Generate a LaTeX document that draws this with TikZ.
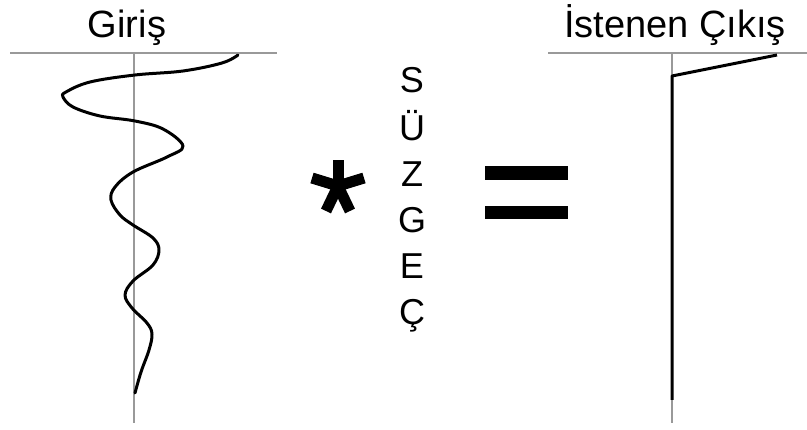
\documentclass[tikz,border=0pt]{standalone}
\usepackage{fontspec}
\setmainfont{Liberation Sans}
\begin{document}
\begin{tikzpicture}[x=1pt,y=-1pt,
  axis/.style={draw=black!40,line width=1.4pt},
  signal/.style={draw=black,line width=3pt,line cap=round,line join=round},
  title/.style={font=\fontsize{38}{40}\selectfont,anchor=base,inner sep=0pt},
  letter/.style={font=\fontsize{36}{38}\selectfont,anchor=base,inner sep=0pt},
  spoke/.style={line width=11pt},
  bar/.style={fill=black}]
\useasboundingbox (0,0) rectangle (807,430);
% input panel
\node[title] (tin) at (127,38) {Giriş};
\coordinate (inL) at (10,53); \coordinate (inR) at (277,53);
\coordinate (inT) at (134,53); \coordinate (inB) at (134,423);
\draw[axis] (inL) -- (inR);
\draw[axis] (inT) -- (inB);
\draw[signal] plot[smooth,tension=0.6] coordinates {
  (238,55) (222,63) (183,71) (135,75) (90,82) (66,92) (63,97) (73,107)
  (100,116) (135,121) (163,129) (183,146) (167,157) (133,172) (115,187)
  (111,200) (120,215) (133,225) (153,238) (159,250) (153,265) (133,281)
  (125,295) (132,308) (147,323) (152,334) (149,350) (141,372) (135,393)};
% convolution operator
\coordinate (ast) at (338,186);
\draw[spoke] (ast) -- (338,160);
\draw[spoke] (ast) -- (312,178);
\draw[spoke] (ast) -- (364,178);
\draw[spoke] (ast) -- (326,211);
\draw[spoke] (ast) -- (350,211);
% filter label
\node[letter] (l1) at (412,93) {S};
\node[letter] (l2) at (412,141) {Ü};
\node[letter] (l3) at (412,187) {Z};
\node[letter] (l4) at (412,233) {G};
\node[letter] (l5) at (412,279) {E};
\node[letter] (l6) at (412,325) {Ç};
% equals sign
\path[bar] (485,166) rectangle (568,180);
\path[bar] (485,206) rectangle (568,219);
% desired output panel
\node[title] (tout) at (675,38) {İstenen Çıkış};
\coordinate (outL) at (548,53); \coordinate (outR) at (807,53);
\coordinate (outT) at (672,53); \coordinate (outB) at (672,423);
\draw[axis] (outL) -- (outR);
\draw[axis] (outT) -- (outB);
\coordinate (o1) at (777,55); \coordinate (o2) at (672,76); \coordinate (o3) at (672,400);
\draw[signal,line cap=butt] (o1) -- (o2) -- (o3);
\end{tikzpicture}
\end{document}
